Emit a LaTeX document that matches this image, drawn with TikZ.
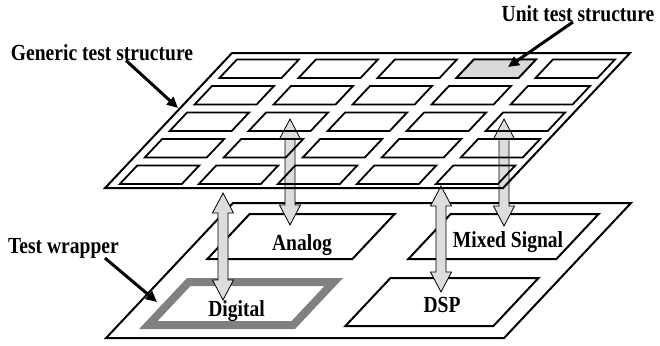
\documentclass[tikz,border=0pt]{standalone}
\usepackage{fontspec}
\newfontfamily\labelfont[FakeStretch=0.85]{Liberation Serif}
\usetikzlibrary{arrows.meta}

\definecolor{cellgray}{HTML}{D9D9D9}
\definecolor{arrowgray}{HTML}{DDDDDD}
\definecolor{framegray}{HTML}{808080}

\tikzset{
  plate/.style={line width=2pt},
  cell/.style={line width=1.8pt},
  lbl/.style={font=\labelfont\bfseries\fontsize{23}{26}\selectfont, inner sep=0pt},
  pointer/.style={line width=3pt, -{Triangle[length=11pt,width=10pt]}},
  ioshape/.style={fill=arrowgray, draw=black, line width=0.8pt},
}

% double block arrow: x, top tip, bottom tip
\newcommand{\ioarrow}[3]{%
  \filldraw[ioshape] (#1,#2) -- (#1+10.5,#2+20) -- (#1+5,#2+20) -- (#1+5,#3-20)
    -- (#1+10.5,#3-20) -- (#1,#3) -- (#1-10.5,#3-20) -- (#1-5,#3-20)
    -- (#1-5,#2+20) -- (#1-10.5,#2+20) -- cycle;}

\begin{document}
\begin{tikzpicture}[x=1pt,y=-1pt]
\useasboundingbox (0,0) rectangle (660,345);

% test wrapper
\begin{scope}[shift={(233,203)},xslant=0.94]
  \draw[plate] (0,0) rectangle (398,135);
  \draw[plate] (27,11) rectangle (172,56);
  \draw[plate] (228,11) rectangle (376,56);
  \draw[plate] (228,75) rectangle (376,123);
  \draw[line width=8pt,draw=framegray] (30,79) rectangle (175,122);
\end{scope}

% access arrows
\ioarrow{223}{193}{300}
\ioarrow{290}{119}{225}
\ioarrow{441}{186}{292}
\ioarrow{504}{119}{226}

% generic test structure
\begin{scope}[shift={(232,53)},xslant=0.94]
  \draw[plate] (0,0) rectangle (398,135);
  \foreach \i in {0,...,4}
    \foreach \j in {0,...,4}
      \draw[cell] (11+79*\i,6.5+26.5*\j) rectangle ++(62,18.5);
  \filldraw[cell,fill=cellgray] (248,6.5) rectangle ++(62,18.5);
\end{scope}

\node[lbl,anchor=base] (generic) at (102,60) {Generic test structure};
\node[lbl,anchor=base] (unit) at (578,21.5) {Unit test structure};
\node[lbl,anchor=base] (wrapper) at (63.5,253) {Test wrapper};
\node[lbl,anchor=base] (analog) at (302,250.5) {Analog};
\node[lbl,anchor=base] (mixed) at (508,247) {Mixed Signal};
\node[lbl,anchor=base] (digital) at (236.5,316) {Digital};
\node[lbl,anchor=base] (dsp) at (442,312.5) {DSP};

\coordinate (generictip) at (178,108);
\coordinate (unittip) at (508,67);
\coordinate (wrappertip) at (157,302);
\draw[pointer] ([xshift=24pt]generic.south) -- (generictip);
\draw[pointer] ([xshift=-5pt]unit.south) -- (unittip);
\draw[pointer] ([xshift=41.5pt]wrapper.south) -- (wrappertip);
\end{tikzpicture}
\end{document}
